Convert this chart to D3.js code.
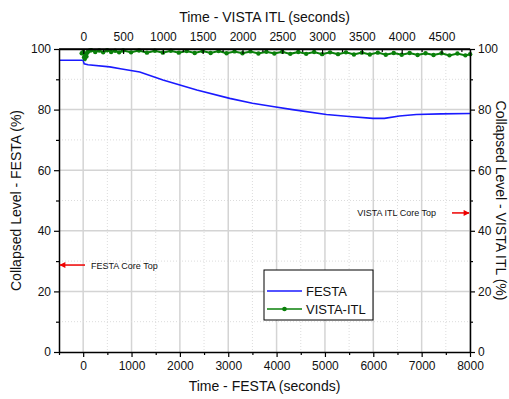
<!DOCTYPE html>
<html>
<head>
<meta charset="utf-8">
<script src="https://cdn.jsdelivr.net/npm/d3@7"></script>
<style>
  html, body { margin: 0; padding: 0; background: #fff; }
  svg text { font-family: "Liberation Sans", Arial, sans-serif; fill: #111; }
</style>
</head>
<body>
<svg id="chart" width="509" height="399"></svg>
<script>
// FESTA collapsed level (%) vs FESTA time (s)
const festaTime = [-500, -10, 0, 20, 100, 550, 800, 1170, 1650, 2350, 3030, 3500, 3920, 4330, 5030, 5500, 5990, 6230, 6540, 6890, 7400, 8000];
const festaLevel = [96.3, 96.3, 96.3, 95.1, 94.8, 94.1, 93.4, 92.4, 89.8, 86.5, 83.7, 82.1, 81.0, 80.0, 78.4, 77.7, 77.1, 77.1, 77.9, 78.4, 78.6, 78.7];

// VISTA-ITL collapsed level (%) vs VISTA-ITL time (s)
const vistaTime = [-20, 0, 10, 20, 30, 40, 50, 60, 80, 100, 150, 200, 250, 300, 350, 400, 450, 500, 600, 700, 800, 900, 1000,
  1100, 1200, 1300, 1400, 1500, 1600, 1700, 1800, 1900, 2000, 2100, 2200, 2300, 2400, 2500, 2600, 2700, 2800,
  2900, 3000, 3100, 3200, 3300, 3400, 3500, 3600, 3700, 3800, 3900, 4000, 4100, 4200, 4300, 4400, 4500, 4600,
  4700, 4800, 4860];
const vistaLevel = [98.6, 99.0, 97.3, 96.8, 98.4, 97.5, 98.8, 99.2, 99.5, 99.6, 99.0, 99.5, 98.9, 99.6, 99.0, 99.4, 98.9, 99.5, 98.9, 99.5, 98.8, 99.4, 98.8,
  99.4, 98.8, 99.3, 98.7, 99.3, 98.7, 99.3, 98.6, 99.2, 98.6, 99.2, 98.5, 99.1, 98.5, 99.1, 98.4, 99.0, 98.4,
  99.0, 98.3, 98.9, 98.3, 98.9, 98.2, 98.8, 98.2, 98.8, 98.1, 98.7, 98.1, 98.7, 98.0, 98.6, 98.0, 98.6, 97.9,
  98.5, 97.9, 98.3];

// Axis ticks
const festaTicks = [0, 1000, 2000, 3000, 4000, 5000, 6000, 7000, 8000];
const festaMinor = [-500, 500, 1500, 2500, 3500, 4500, 5500, 6500, 7500];
const vistaTicks = [0, 500, 1000, 1500, 2000, 2500, 3000, 3500, 4000, 4500];
const vistaMinor = [250, 750, 1250, 1750, 2250, 2750, 3250, 3750, 4250, 4750];
const levelTicks = [0, 20, 40, 60, 80, 100];
const levelMinor = [10, 30, 50, 70, 90];

// Core-top reference markers
const festaCoreTop = 28.7;
const vistaCoreTop = 45.9;

const svg = d3.select("#chart");
const L = 59, R = 470, T = 49, B = 352;

const xF = d3.scaleLinear().domain([-500, 8000]).range([L, R]);
const xV = d3.scaleLinear().domain([-305, 4858]).range([L, R]);
const y = d3.scaleLinear().domain([0, 100]).range([B, T]);
const fmt = d3.format("d");

// grid
const grid = svg.append("g");
festaTicks.forEach(t => grid.append("line").attr("x1", xF(t)).attr("x2", xF(t)).attr("y1", T).attr("y2", B)
  .attr("stroke", "#d4d4d4").attr("stroke-width", 1.5));
festaMinor.filter(t => t > -500).forEach(t => grid.append("line").attr("x1", xF(t)).attr("x2", xF(t)).attr("y1", T).attr("y2", B)
  .attr("stroke", "#dcdcdc").attr("stroke-width", 1).attr("stroke-dasharray", "1,2"));
levelTicks.filter(v => v > 0 && v < 100).forEach(v => grid.append("line").attr("x1", L).attr("x2", R).attr("y1", y(v)).attr("y2", y(v))
  .attr("stroke", "#d4d4d4").attr("stroke-width", 1.5));
levelMinor.forEach(v => grid.append("line").attr("x1", L).attr("x2", R).attr("y1", y(v)).attr("y2", y(v))
  .attr("stroke", "#dcdcdc").attr("stroke-width", 1).attr("stroke-dasharray", "1,2"));

// series
const plot = svg.append("g");
plot.append("path")
  .datum(festaTime.map((t, i) => [t, festaLevel[i]]))
  .attr("fill", "none").attr("stroke", "#1a1aff").attr("stroke-width", 1.6)
  .attr("d", d3.line().x(d => xF(d[0])).y(d => y(d[1])));

const vistaData = vistaTime.map((t, i) => [t, vistaLevel[i]]);
plot.append("path")
  .datum(vistaData)
  .attr("fill", "none").attr("stroke", "#0a800a").attr("stroke-width", 2)
  .attr("d", d3.line().x(d => xV(d[0])).y(d => y(d[1])));
plot.selectAll("circle.v").data(vistaData).enter().append("circle")
  .attr("cx", d => xV(d[0])).attr("cy", d => y(d[1])).attr("r", 2.2)
  .attr("fill", "#0a800a");

// axes
function styleAxis(g) {
  g.selectAll("path.domain").attr("stroke", "#000").attr("stroke-width", 1.5);
  g.selectAll(".tick line").attr("stroke", "#000").attr("stroke-width", 1.2);
  g.selectAll(".tick text").attr("font-size", 12).attr("font-family", "Liberation Sans, Arial, sans-serif").attr("fill", "#111");
}
function minor(g) { g.selectAll(".tick text").remove(); g.select("path.domain").remove(); g.selectAll(".tick line").attr("stroke", "#000").attr("stroke-width", 1.2); }

svg.append("g").attr("transform", `translate(0,${B})`)
  .call(d3.axisBottom(xF).tickValues(festaTicks).tickFormat(fmt).tickSize(5).tickSizeOuter(0).tickPadding(4)).call(styleAxis);
svg.append("g").attr("transform", `translate(0,${B})`)
  .call(d3.axisBottom(xF).tickValues(festaMinor).tickSize(3)).call(minor);

svg.append("g").attr("transform", `translate(0,${T})`)
  .call(d3.axisTop(xV).tickValues(vistaTicks).tickFormat(fmt).tickSize(-5).tickSizeOuter(0).tickPadding(8)).call(styleAxis);
svg.append("g").attr("transform", `translate(0,${T})`)
  .call(d3.axisTop(xV).tickValues(vistaMinor).tickSize(-3)).call(minor);

svg.append("g").attr("transform", `translate(${L},0)`)
  .call(d3.axisLeft(y).tickValues(levelTicks).tickFormat(fmt).tickSize(5).tickSizeOuter(0).tickPadding(3)).call(styleAxis);
svg.append("g").attr("transform", `translate(${L},0)`)
  .call(d3.axisLeft(y).tickValues(levelMinor).tickSize(3)).call(minor);

svg.append("g").attr("transform", `translate(${R},0)`)
  .call(d3.axisRight(y).tickValues(levelTicks).tickFormat(fmt).tickSize(5).tickSizeOuter(0).tickPadding(3)).call(styleAxis);
svg.append("g").attr("transform", `translate(${R},0)`)
  .call(d3.axisRight(y).tickValues(levelMinor).tickSize(3)).call(minor);

// axis titles
svg.append("text").attr("x", (L + R) / 2).attr("y", 22).attr("text-anchor", "middle").attr("font-size", 14)
  .text("Time - VISTA ITL (seconds)");
svg.append("text").attr("x", (L + R) / 2).attr("y", 391).attr("text-anchor", "middle").attr("font-size", 14)
  .text("Time - FESTA (seconds)");
svg.append("text").attr("transform", `translate(21,${(T + B) / 2}) rotate(-90)`).attr("text-anchor", "middle").attr("font-size", 14)
  .text("Collapsed Level - FESTA (%)");
svg.append("text").attr("transform", `translate(496,${(T + B) / 2}) rotate(90)`).attr("text-anchor", "middle").attr("font-size", 14)
  .text("Collapsed Level - VISTA ITL (%)");

// core-top annotations
svg.append("defs").append("marker").attr("id", "arrow").attr("viewBox", "0 0 10 10")
  .attr("refX", 9).attr("refY", 5).attr("markerWidth", 5).attr("markerHeight", 4).attr("orient", "auto")
  .append("path").attr("d", "M0,0 L10,5 L0,10 Z").attr("fill", "#ee0000");
svg.append("line").attr("x1", 85).attr("x2", L + 1).attr("y1", y(festaCoreTop)).attr("y2", y(festaCoreTop))
  .attr("stroke", "#ee0000").attr("stroke-width", 1.5).attr("marker-end", "url(#arrow)");
svg.append("text").attr("x", 91).attr("y", y(festaCoreTop) + 3.5).attr("font-size", 9).text("FESTA Core Top");
svg.append("line").attr("x1", 452).attr("x2", R - 1).attr("y1", y(vistaCoreTop)).attr("y2", y(vistaCoreTop))
  .attr("stroke", "#ee0000").attr("stroke-width", 1.5).attr("marker-end", "url(#arrow)");
svg.append("text").attr("x", 436).attr("y", y(vistaCoreTop) + 3.5).attr("text-anchor", "end").attr("font-size", 9)
  .text("VISTA ITL Core Top");

// legend
const lg = svg.append("g").attr("transform", "translate(264,270)");
lg.append("rect").attr("width", 109).attr("height", 50).attr("fill", "#fff").attr("stroke", "#000").attr("stroke-width", 1);
lg.append("line").attr("x1", 3).attr("x2", 38).attr("y1", 21).attr("y2", 21).attr("stroke", "#1a1aff").attr("stroke-width", 1.6);
lg.append("text").attr("x", 42).attr("y", 26).attr("font-size", 13).text("FESTA");
lg.append("line").attr("x1", 3).attr("x2", 38).attr("y1", 39).attr("y2", 39).attr("stroke", "#0a800a").attr("stroke-width", 1.6);
lg.append("circle").attr("cx", 20.5).attr("cy", 39).attr("r", 2.3).attr("fill", "#0a800a");
lg.append("text").attr("x", 42).attr("y", 44).attr("font-size", 13).text("VISTA-ITL");

// frame top edge
svg.append("line").attr("x1", L).attr("x2", R).attr("y1", T).attr("y2", T).attr("stroke", "#000").attr("stroke-width", 1.5);
</script>
</body>
</html>
